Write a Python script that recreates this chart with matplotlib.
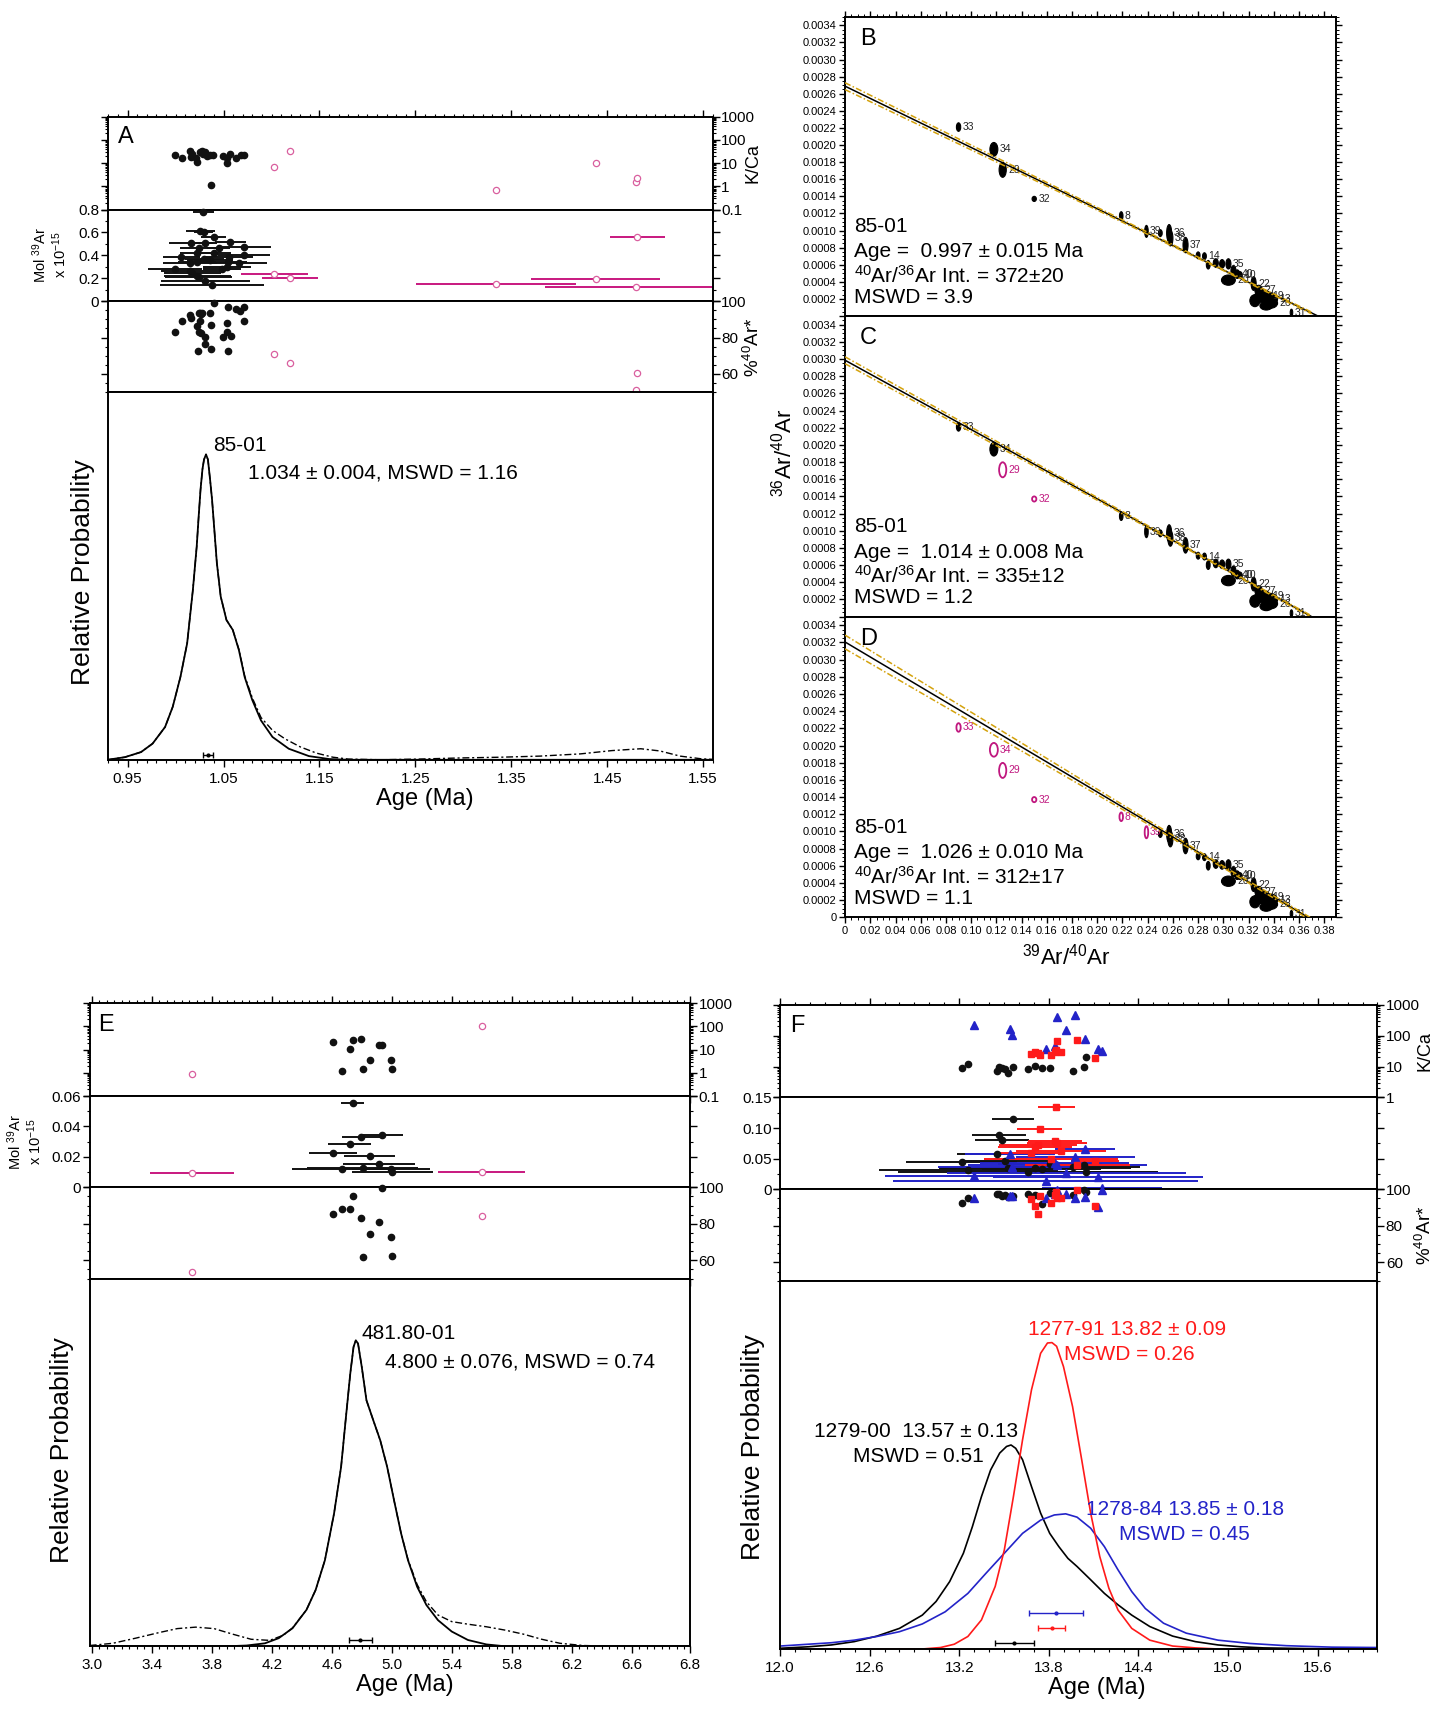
import numpy as np
import matplotlib
matplotlib.use("Agg")
import matplotlib.pyplot as plt
from matplotlib.patches import Ellipse
from matplotlib.ticker import (FixedLocator, MultipleLocator, FuncFormatter,
                               LogLocator, NullFormatter)
from matplotlib import font_manager

names = {f.name for f in font_manager.fontManager.ttflist}
SANS = 'Liberation Sans' if 'Liberation Sans' in names else 'DejaVu Sans'

plt.rcParams.update({
    'font.family': [SANS, 'DejaVu Sans'],
    'mathtext.fontset': 'custom',
    'mathtext.rm': SANS,
    'mathtext.it': SANS + ':italic',
    'mathtext.bf': SANS + ':bold',
    'axes.linewidth': 1.4,
    'xtick.direction': 'out',
    'ytick.direction': 'out',
})

nan = np.nan

# ---------------- panel A (85-01) ----------------
a_kca_age = [0.999, 1.007, 1.015, 1.016, 1.017, 1.021, 1.022, 1.025, 1.028, 1.029, 1.031,
             1.033, 1.036, 1.037, 1.039, 1.049, 1.054, 1.054, 1.057, 1.063, 1.068, 1.071]
a_kca = [22, 17, 34, 19, 26, 17, 11.5, 31, 33, 26, 31, 21, 22, 1.1, 22, 21, 16, 10, 26, 17, 22, 22]

a_mol_age = [1.0287, 1.0259, 1.0294, 1.0398, 1.0165, 1.0311, 1.0571, 1.0242, 1.0710, 1.0225,
             1.0061, 1.0710, 1.0554, 1.0363, 1.0224, 1.0547, 1.0148, 1.0658, 1.0537, 0.9992,
             1.0155, 1.0485, 1.0224, 1.0242, 1.0311, 1.0380, 1.0175, 1.0300, 1.0400, 1.0450]
a_mol = [0.780, 0.617, 0.608, 0.563, 0.511, 0.505, 0.520, 0.467, 0.476, 0.425,
         0.390, 0.400, 0.390, 0.360, 0.346, 0.346, 0.332, 0.332, 0.303, 0.283,
         0.268, 0.283, 0.225, 0.208, 0.173, 0.139, 0.245, 0.370, 0.420, 0.465]
a_mol_err = [0.011, 0.015, 0.010, 0.013, 0.023, 0.012, 0.016, 0.020, 0.028, 0.018,
             0.019, 0.027, 0.025, 0.024, 0.020, 0.020, 0.028, 0.029, 0.025, 0.028,
             0.031, 0.020, 0.035, 0.035, 0.046, 0.054, 0.030, 0.020, 0.018, 0.012]

a_ar_age = [1.0398, 1.0547, 1.0634, 1.0675, 1.0710, 1.0068, 1.0148, 1.0165, 1.0242, 1.0252,
            1.0262, 1.0276, 1.0363, 1.0259, 1.0537, 1.0710, 1.0224, 1.0373, 0.9992, 1.0242,
            1.0269, 1.0311, 1.0537, 1.0582, 1.0491, 1.0311, 1.0235, 1.0373, 1.0547]
a_ar = [99.1, 96.8, 95.6, 94.4, 96.8, 89.4, 92.4, 90.7, 93.5, 93.8,
        93.0, 93.3, 93.8, 89.4, 88.0, 89.1, 86.2, 86.8, 83.3, 83.3,
        82.4, 80.3, 83.3, 81.0, 80.3, 76.6, 72.7, 73.6, 72.7]

a_rej_age = [1.103, 1.119, 1.334, 1.438, 1.480, 1.4815]
a_rej_kca = [6.6, 35, 0.70, 10, 1.6, 2.4]
a_rej_mol = [0.234, 0.202, 0.152, 0.193, 0.126, 0.557]
a_rej_err = [0.035, 0.029, 0.083, 0.067, 0.095, 0.029]
a_rej_ar = [70.9, 66.1, nan, nan, 50.8, 60.2]

a_sel_age = [0.929, 0.947, 0.964, 0.976, 0.989, 0.997, 1.005, 1.012, 1.018, 1.022, 1.024,
             1.026, 1.028, 1.0296, 1.0317, 1.0337, 1.036, 1.038, 1.043, 1.047, 1.053,
             1.0596, 1.066, 1.072, 1.080, 1.089, 1.101, 1.118, 1.139, 1.160, 1.180, 1.560]
a_sel = [0.0, 0.007, 0.021, 0.044, 0.089, 0.144, 0.225, 0.316, 0.462, 0.580, 0.660,
         0.735, 0.790, 0.816, 0.830, 0.816, 0.760, 0.707, 0.535, 0.444, 0.380,
         0.353, 0.298, 0.225, 0.162, 0.107, 0.062, 0.030, 0.010, 0.002, 0.0, 0.0]
a_all_age = [0.929, 0.947, 0.964, 0.976, 0.989, 0.997, 1.005, 1.012, 1.018, 1.022, 1.024,
             1.026, 1.028, 1.0296, 1.0317, 1.0337, 1.036, 1.038, 1.043, 1.047, 1.053,
             1.0596, 1.066, 1.072, 1.080, 1.089, 1.101, 1.114, 1.130, 1.147, 1.164,
             1.180, 1.214, 1.255, 1.297, 1.339, 1.380, 1.422, 1.455, 1.485, 1.505,
             1.526, 1.547, 1.560]
a_all = [0.0, 0.007, 0.021, 0.044, 0.089, 0.144, 0.225, 0.316, 0.462, 0.580, 0.660,
         0.735, 0.790, 0.816, 0.830, 0.816, 0.760, 0.707, 0.535, 0.444, 0.380,
         0.353, 0.300, 0.228, 0.168, 0.115, 0.080, 0.057, 0.035, 0.018, 0.007,
         0.002, 0.0, 0.002, 0.005, 0.007, 0.010, 0.016, 0.025, 0.030, 0.024,
         0.010, 0.003, 0.001]
a_mean, a_mean_err = 1.034, 0.005

# ---------------- panels B-D (isochrons 85-01) ----------------
iso_step = ['33', '34', '29', '32', '8', '39', '', '36', '38', '37', '', '14', '', '', '',
            '35', '', '40', '10', '20', '22', '27', '19', '13', '', '26', '', '', '31']
iso_x = [0.090, 0.118, 0.125, 0.150, 0.219, 0.239, 0.250, 0.257, 0.258, 0.270, 0.280,
         0.285, 0.288, 0.294, 0.299, 0.304, 0.308, 0.311, 0.313, 0.304, 0.324, 0.328,
         0.333, 0.338, 0.330, 0.337, 0.325, 0.334, 0.354]
iso_y = [0.00221, 0.00195, 0.00171, 0.00137, 0.00117, 0.00099, 0.00097, 0.00097, 0.00091,
         0.00083, 0.00071, 0.00070, 0.00060, 0.00062, 0.00061, 0.00061, 0.00053, 0.00049,
         0.00048, 0.00042, 0.00038, 0.00030, 0.00024, 0.00020, 0.00022, 0.00015, 0.00018,
         0.00012, 0.00004]
iso_ex = [0.0034, 0.0063, 0.0057, 0.0034, 0.0028, 0.0028, 0.0030, 0.0040, 0.0040, 0.0040,
          0.0030, 0.0030, 0.0030, 0.0040, 0.0040, 0.0040, 0.0040, 0.0040, 0.0040, 0.0110,
          0.0040, 0.0060, 0.0080, 0.0100, 0.0120, 0.0120, 0.0080, 0.0100, 0.0020]
iso_ey = [0.00010, 0.00016, 0.000175, 0.00006, 0.00010, 0.00014, 0.00008, 0.00020, 0.00018,
          0.00018, 0.00008, 0.00008, 0.00010, 0.00010, 0.00010, 0.00012, 0.00012, 0.00010,
          0.00008, 0.00012, 0.00016, 0.00012, 0.00012, 0.00014, 0.00012, 0.00012, 0.00014,
          0.00010, 0.00008]

iso_letters = ['B', 'C', 'D']
iso_ages = ['0.997 ± 0.015', '1.014 ± 0.008', '1.026 ± 0.010']
iso_trapped = ['372±20', '335±12', '312±17']
iso_mswd = ['3.9', '1.2', '1.1']
iso_rejected = [[], ['29', '32'], ['33', '34', '29', '32', '8', '39']]
iso_yint = [1 / 372, 1 / 335, 1 / 312]
iso_xint = [0.375, 0.370, 0.367]
env_x = [0.0, 0.1, 0.2, 0.3, 0.37]
iso_env = [[4e-5, 2.8e-5, 1.6e-5, 0.6e-5, 1.0e-5],
           [4e-5, 2.8e-5, 1.6e-5, 0.6e-5, 1.0e-5],
           [8e-5, 5.6e-5, 3.2e-5, 1.0e-5, 1.5e-5]]

# ---------------- panel E (481.80-01) ----------------
e_age = [4.609, 4.667, 4.719, 4.738, 4.793, 4.806, 4.854, 4.917, 4.938, 4.993, 5.003]
e_kca = [21, 1.18, 10.3, 25, 29, 1.5, 3.5, 16.4, 16.4, 3.5, 1.5]
e_mol = [0.0228, 0.0118, 0.0287, 0.0552, 0.0331, 0.0125, 0.0208, 0.0151, 0.0342, 0.0120, 0.0101]
e_mol_err = [0.16, 0.33, 0.143, 0.077, 0.128, 0.37, 0.17, 0.24, 0.14, 0.26, 0.27]
e_ar = [85.6, 88.3, 87.9, 95.0, 82.9, 61.7, 74.5, 81.1, 99.5, 72.5, 62.2]

e_rej_age = [3.668, 5.60]
e_rej_kca = [0.9, 101]
e_rej_mol = [0.0096, 0.0103]
e_rej_err = [0.28, 0.29]
e_rej_ar = [53.5, 84.0]

e_sel_age = [2.985, 3.9, 4.031, 4.154, 4.246, 4.338, 4.431, 4.492, 4.554, 4.615, 4.662,
             4.692, 4.723, 4.745, 4.760, 4.775, 4.800, 4.831, 4.877, 4.923, 4.969, 5.015,
             5.062, 5.108, 5.169, 5.231, 5.308, 5.400, 5.508, 5.631, 5.754, 6.99]
e_sel = [0.0, 0.0, 0.002, 0.008, 0.022, 0.049, 0.099, 0.153, 0.234, 0.361, 0.488,
         0.614, 0.741, 0.814, 0.832, 0.823, 0.759, 0.669, 0.614, 0.560, 0.488, 0.397,
         0.307, 0.234, 0.162, 0.112, 0.071, 0.040, 0.017, 0.005, 0.0, 0.0]
e_all_age = [2.985, 3.138, 3.292, 3.446, 3.569, 3.692, 3.815, 3.938, 4.062, 4.185, 4.277,
             4.338, 4.431, 4.492, 4.554, 4.615, 4.662, 4.692, 4.723, 4.745, 4.760, 4.775,
             4.800, 4.831, 4.877, 4.923, 4.969, 5.015, 5.062, 5.108, 5.169, 5.231, 5.308,
             5.400, 5.508, 5.631, 5.754, 5.877, 6.000, 6.123, 6.277, 6.490, 6.99]
e_all = [0.002, 0.008, 0.022, 0.037, 0.048, 0.052, 0.048, 0.033, 0.019, 0.016, 0.030,
         0.050, 0.099, 0.153, 0.234, 0.361, 0.488, 0.614, 0.741, 0.814, 0.832, 0.823,
         0.759, 0.669, 0.614, 0.560, 0.488, 0.397, 0.307, 0.236, 0.168, 0.121, 0.085,
         0.067, 0.060, 0.053, 0.044, 0.033, 0.019, 0.008, 0.002, 0.0, 0.0]
e_mean, e_mean_err = 4.79, 0.077
e_xticks = [3.0, 3.4, 3.8, 4.2, 4.6, 5.0, 5.4, 5.8, 6.2, 6.6, 6.99]
e_xlabels = ['3.0', '3.4', '3.8', '4.2', '4.6', '5.0', '5.4', '5.8', '6.2', '6.6', '6.8']

# ---------------- panel F (three samples) ----------------
f_blk_age = [13.216, 13.26, 13.456, 13.467, 13.484, 13.507, 13.524, 13.56, 13.658, 13.707,
             13.751, 13.807, 13.96, 14.033, 14.051]
f_blk_kca = [8.8, 11.9, 7.2, 9.8, 8.8, 8.2, 6.3, 9.8, 8.2, 10.3, 8.8, 8.8, 7.2, 9.5, 20.8]
f_blk_mol = [0.044, 0.031, 0.057, 0.089, 0.080, 0.047, 0.035, 0.114, 0.029, 0.035,
             0.033, 0.042, 0.036, 0.040, 0.028]
f_blk_err = [0.37, 0.60, 0.27, 0.18, 0.18, 0.30, 0.45, 0.14, 0.87, 0.64, 0.40, 0.35, 0.45,
             0.30, 0.30]
f_blk_ar = [92.5, 95.0, 97.7, 97.3, 96.4, 96.8, 96.0, 96.4, 97.7, 97.0, 92.0, 98.2, 97.0,
            99.8, 98.5]

f_red_age = [13.678, 13.707, 13.729, 13.74, 13.813, 13.84, 13.851, 13.856, 13.88, 13.991, 14.107]
f_red_kca = [25.5, 30.5, 27.5, 23.6, 24.3, 29, 35.4, 70, 29, 74, 18.4]
f_red_mol = [0.060, 0.069, 0.072, 0.099, 0.049, 0.079, 0.134, 0.076, 0.062, 0.040, 0.046]
f_red_err = [0.22, 0.25, 0.26, 0.15, 0.45, 0.18, 0.124, 0.20, 0.30, 0.35, 0.16]
f_red_ar = [94.7, 90.7, 86.6, 96.4, 92.5, 97.0, 98.6, 95.0, 95.0, 99.5, 91.1]

f_blu_age = [13.302, 13.542, 13.556, 13.78, 13.838, 13.856, 13.916, 13.978, 14.044, 14.129, 14.156]
f_blu_kca = [231, 170, 102, 37, 48, 392, 150, 468, 80, 37, 32]
f_blu_mol = [0.0225, 0.058, 0.036, 0.0137, 0.043, 0.040, 0.026, 0.053, 0.065, 0.020, 0.002]
f_blu_err = [0.60, 0.30, 0.50, 1.02, 0.50, 0.60, 0.80, 0.40, 0.20, 0.70, 0.40]
f_blu_ar = [95.0, 96.4, 96.4, 95.4, 97.7, 99.5, 97.3, 95.4, 96.0, 90.6, 99.8]

f_blk_pdf_age = [12.003, 12.19, 12.344, 12.497, 12.649, 12.80, 12.953, 13.045, 13.136, 13.228,
                 13.288, 13.349, 13.41, 13.471, 13.517, 13.547, 13.578, 13.624, 13.684, 13.745,
                 13.806, 13.867, 13.928, 13.989, 14.08, 14.172, 14.263, 14.355, 14.476, 14.629,
                 14.781, 14.933, 15.086, 15.238, 15.54, 16.0]
f_blk_pdf = [0.002, 0.006, 0.011, 0.020, 0.035, 0.056, 0.092, 0.129, 0.183, 0.260,
             0.332, 0.414, 0.486, 0.532, 0.550, 0.554, 0.545, 0.514, 0.441, 0.369,
             0.314, 0.278, 0.246, 0.224, 0.188, 0.151, 0.120, 0.092, 0.061, 0.035,
             0.020, 0.011, 0.006, 0.003, 0.001, 0.0]
f_red_pdf_age = [12.0, 12.953, 13.075, 13.167, 13.258, 13.349, 13.441, 13.502, 13.563, 13.624,
                 13.684, 13.745, 13.791, 13.821, 13.852, 13.898, 13.959, 14.02, 14.08, 14.141,
                 14.202, 14.263, 14.355, 14.476, 14.629, 14.781, 14.933, 16.0]
f_red_pdf = [0.0, 0.0, 0.004, 0.013, 0.034, 0.079, 0.170, 0.269, 0.414, 0.568,
             0.704, 0.803, 0.831, 0.832, 0.822, 0.767, 0.658, 0.514, 0.369, 0.251,
             0.165, 0.106, 0.056, 0.024, 0.008, 0.003, 0.0, 0.0]
f_blu_pdf_age = [12.0, 12.19, 12.344, 12.497, 12.649, 12.80, 12.953, 13.106, 13.258, 13.38,
                 13.502, 13.624, 13.745, 13.837, 13.913, 13.989, 14.08, 14.172, 14.263, 14.355,
                 14.446, 14.568, 14.72, 14.933, 15.147, 15.39, 15.695, 16.0]
f_blu_pdf = [0.008, 0.013, 0.017, 0.024, 0.034, 0.047, 0.068, 0.101, 0.151, 0.206,
             0.260, 0.314, 0.350, 0.364, 0.367, 0.358, 0.328, 0.278, 0.215, 0.156,
             0.110, 0.070, 0.043, 0.024, 0.015, 0.009, 0.005, 0.004]
f_means = [13.57, 13.82, 13.85]
f_mean_errs = [0.13, 0.09, 0.18]

BLACK = '#111111'
RED = '#ff1a1a'
BLUE = '#2323c8'
PINK = '#d9609f'
PINK_BAR = '#c8187f'
GOLD = '#d4a20c'
MAG = '#c0177f'

fig = plt.figure(figsize=(14.53, 17.12), dpi=100)


def stack(xs, ys, xlim):
    x0, x1 = xs
    axes = []
    for top, bot in zip(ys[:-1], ys[1:]):
        ax = fig.add_axes([x0, bot, x1 - x0, top - bot],
                          sharex=axes[0] if axes else None)
        axes.append(ax)
    kca, mol, ar, prob = axes
    for ax in axes:
        ax.tick_params(axis='x', which='both', bottom=True, top=False, labelbottom=False)
        ax.tick_params(which='major', length=5, width=1)
        ax.tick_params(which='minor', length=2.5, width=0.8)
    kca.tick_params(axis='x', which='both', top=True)
    prob.tick_params(axis='x', labelbottom=True, labelsize=11)
    prob.set_xlim(*xlim)
    prob.set_yticks([])
    prob.set_ylim(0, 1)
    return kca, mol, ar, prob


def setup_kca(ax, lim, ticks):
    ax.set_yscale('log')
    ax.set_ylim(*lim)
    ax.yaxis.set_major_locator(FixedLocator(ticks))
    ax.yaxis.set_minor_locator(LogLocator(base=10, subs=np.arange(2, 10)))
    ax.yaxis.set_major_formatter(FuncFormatter(lambda v, p: f'{v:g}'))
    ax.yaxis.set_minor_formatter(NullFormatter())
    ax.tick_params(axis='y', which='both', left=True, right=True,
                   labelleft=False, labelright=True, labelsize=11, pad=1)


def setup_mol(ax, top, step, minor, fmt):
    ax.set_ylim(0, top)
    ax.yaxis.set_major_locator(MultipleLocator(step))
    ax.yaxis.set_minor_locator(MultipleLocator(minor))
    ax.yaxis.set_major_formatter(FuncFormatter(fmt))
    ax.tick_params(axis='y', which='both', left=True, right=True,
                   labelleft=True, labelright=False, labelsize=11, pad=1)


def setup_ar(ax):
    ax.set_ylim(50, 100)
    ax.yaxis.set_major_locator(MultipleLocator(20))
    ax.yaxis.set_minor_locator(MultipleLocator(5))
    ax.tick_params(axis='y', which='both', left=True, right=True,
                   labelleft=False, labelright=True, labelsize=11, pad=1)


def dots(ax, x, y, marker='o', color=BLACK, ms=4.5):
    ax.plot(x, y, marker, color=color, ms=ms, ls='none', clip_on=False, zorder=3)


def open_dots(ax, x, y):
    ax.plot(x, y, 'o', mfc='white', mec=PINK, mew=0.9, ms=4.5, ls='none',
            clip_on=False, zorder=3)


def bars(ax, x, y, err, color, marker='o', ms=4.5, open_marker=False):
    ax.errorbar(x, y, xerr=err, fmt='none', ecolor=color, elinewidth=1.4, capsize=0, zorder=2)
    if open_marker:
        open_dots(ax, x, y)
    else:
        dots(ax, x, y, marker, color, ms)


def g_fmt(v, p):
    return f'{v:g}'


# ---------------- A ----------------
A_X = (0.074, 0.4905)
A_Y = [0.9318, 0.8776, 0.8240, 0.7711, 0.5562]
ak, am, aa, ap = stack(A_X, A_Y, (0.929, 1.56))
ap.xaxis.set_major_locator(FixedLocator(np.round(np.arange(0.95, 1.56, 0.1), 2)))
ap.xaxis.set_minor_locator(MultipleLocator(0.01))
ap.xaxis.set_major_formatter(FuncFormatter(lambda v, p: f'{v:.2f}'))
setup_kca(ak, (0.1, 1000), [0.1, 1, 10, 100, 1000])
setup_mol(am, 0.8, 0.2, 0.1, g_fmt)
setup_ar(aa)

dots(ak, a_kca_age, a_kca)
open_dots(ak, a_rej_age, a_rej_kca)
bars(am, a_mol_age, a_mol, a_mol_err, BLACK)
bars(am, a_rej_age, a_rej_mol, a_rej_err, PINK_BAR, open_marker=True)
dots(aa, a_ar_age, a_ar)
open_dots(aa, a_rej_age, a_rej_ar)

ap.plot(a_all_age, a_all, color='k', lw=1.0, ls=(0, (5, 2, 1.5, 2)))
ap.plot(a_sel_age, a_sel, color='k', lw=1.3)
ap.errorbar(a_mean, 0.012, xerr=a_mean_err, fmt='o', ms=2, color='k', capsize=2.5, lw=1)
ap.text(1.039, 0.853, '85-01', fontsize=15, va='center')
ap.text(1.075, 0.78, '1.034 ± 0.004, MSWD = 1.16', fontsize=15, va='center')
ak.text(0.017, 0.9, 'A', transform=ak.transAxes, fontsize=17, va='top')

fig.text(0.057, 0.666, 'Relative Probability', rotation=90, fontsize=19, ha='center', va='center')
fig.text(0.2923, 0.5333, 'Age (Ma)', fontsize=17, ha='center', va='center')
fig.text(0.034, 0.851, 'Mol $^{39}$Ar\nx 10$^{-15}$', rotation=90, fontsize=10.5,
         ha='center', va='center', linespacing=1.1)
fig.text(0.518, 0.905, 'K/Ca', rotation=90, fontsize=13, ha='center', va='center')
fig.text(0.518, 0.797, '%$^{40}$Ar*', rotation=90, fontsize=13.5, ha='center', va='center')

# ---------------- B, C, D ----------------
ISO_X = (0.5816, 0.9192)
ISO_Y = [0.9902, 0.8154, 0.6398, 0.4642]
for i, letter in enumerate(iso_letters):
    top, bot = ISO_Y[i], ISO_Y[i + 1]
    ax = fig.add_axes([ISO_X[0], bot, ISO_X[1] - ISO_X[0], top - bot])
    ax.set_xlim(0, 0.389)
    ax.set_ylim(0, 0.0035)
    ax.xaxis.set_major_locator(MultipleLocator(0.02))
    ax.xaxis.set_minor_locator(MultipleLocator(0.005))
    ax.yaxis.set_major_locator(MultipleLocator(0.0002))
    ax.yaxis.set_minor_locator(MultipleLocator(0.00005))
    last = (i == len(iso_letters) - 1)
    ax.yaxis.set_major_formatter(FuncFormatter(
        lambda v, p, last=last: ('0' if last else '') if abs(v) < 1e-9 else f'{v:.4f}'))
    ax.xaxis.set_major_formatter(FuncFormatter(
        lambda v, p: '0' if abs(v) < 1e-9 else f'{v:.2f}'))
    ax.tick_params(which='both', left=True, right=True, top=(i == 0), bottom=last,
                   labelbottom=last, labelsize=8, pad=2)
    ax.tick_params(which='major', length=4, width=1)
    ax.tick_params(which='minor', length=2, width=0.7)

    rej = iso_rejected[i]
    for lab, x, y, w, h in zip(iso_step, iso_x, iso_y, iso_ex, iso_ey):
        if lab and lab in rej:
            ax.add_patch(Ellipse((x, y), w, h, facecolor='none', edgecolor=MAG, lw=1.3, zorder=3))
            col = MAG
        else:
            ax.add_patch(Ellipse((x, y), w, h, facecolor='k', edgecolor='k', lw=0.8, zorder=3))
            col = '#222222'
        if lab:
            ax.text(x + w / 2 + 0.0015, y, lab, fontsize=7.5, color=col, va='center', zorder=4)

    y0, x0 = iso_yint[i], iso_xint[i]
    lx = np.array([0.0, x0])
    ax.plot(lx, y0 * (1 - lx / x0), color='k', lw=1.1, zorder=5)
    ex = np.array(env_x)
    ey = y0 * (1 - ex / x0)
    env = np.array(iso_env[i])
    ax.plot(ex, ey + env, color=GOLD, lw=1.1, ls=(0, (4, 1.5, 1, 1.5)), zorder=5)
    ax.plot(ex, ey - env, color=GOLD, lw=1.1, ls=(0, (4, 1.5, 1, 1.5)), zorder=5)

    ax.text(0.03, 0.962, letter, transform=ax.transAxes, fontsize=17, va='top')
    ax.text(0.019, 0.30, '85-01', transform=ax.transAxes, fontsize=15, va='center')
    ax.text(0.019, 0.215, 'Age =  ' + iso_ages[i] + ' Ma', transform=ax.transAxes,
            fontsize=15, va='center')
    ax.text(0.019, 0.135, '$^{40}$Ar/$^{36}$Ar Int. = ' + iso_trapped[i],
            transform=ax.transAxes, fontsize=15, va='center')
    ax.text(0.019, 0.063, 'MSWD = ' + iso_mswd[i], transform=ax.transAxes,
            fontsize=15, va='center')

fig.text(0.5394, 0.7354, '$^{36}$Ar/$^{40}$Ar', rotation=90, fontsize=16,
         ha='center', va='center')
fig.text(0.734, 0.4414, '$^{39}$Ar/$^{40}$Ar', fontsize=16, ha='center', va='center')

# ---------------- E ----------------
E_X = (0.0617, 0.475)
E_Y = [0.4140, 0.3598, 0.3065, 0.2532, 0.0384]
ek, em, ea, ep = stack(E_X, E_Y, (2.985, 6.99))
ep.xaxis.set_major_locator(FixedLocator(e_xticks))
ep.xaxis.set_minor_locator(MultipleLocator(0.05))
ep.set_xticklabels(e_xlabels)
setup_kca(ek, (0.1, 1000), [0.1, 1, 10, 100, 1000])
setup_mol(em, 0.06, 0.02, 0.01, g_fmt)
setup_ar(ea)

dots(ek, e_age, e_kca)
open_dots(ek, e_rej_age, e_rej_kca)
bars(em, e_age, e_mol, e_mol_err, BLACK)
bars(em, e_rej_age, e_rej_mol, e_rej_err, PINK_BAR, open_marker=True)
dots(ea, e_age, e_ar)
open_dots(ea, e_rej_age, e_rej_ar)

ep.plot(e_all_age, e_all, color='k', lw=1.0, ls=(0, (5, 2, 1.5, 2)))
ep.plot(e_sel_age, e_sel, color='k', lw=1.3)
ep.errorbar(e_mean, 0.017, xerr=e_mean_err, fmt='o', ms=2, color='k', capsize=2.5, lw=1)
ep.text(4.80, 0.85, '481.80-01', fontsize=15, va='center')
ep.text(4.954, 0.773, '4.800 ± 0.076, MSWD = 0.74', fontsize=15, va='center')
ek.text(0.014, 0.88, 'E', transform=ek.transAxes, fontsize=17, va='top')

fig.text(0.043, 0.153, 'Relative Probability', rotation=90, fontsize=19, ha='center', va='center')
fig.text(0.2788, 0.016, 'Age (Ma)', fontsize=17, ha='center', va='center')
fig.text(0.017, 0.333, 'Mol $^{39}$Ar\nx 10$^{-15}$', rotation=90, fontsize=10.5,
         ha='center', va='center', linespacing=1.1)

# ---------------- F ----------------
F_X = (0.5368, 0.948)
F_Y = [0.4130, 0.3590, 0.3053, 0.2519, 0.0368]
fk, fm, fa, fp = stack(F_X, F_Y, (12.0, 16.0))
fp.xaxis.set_major_locator(FixedLocator(np.round(np.arange(12.0, 15.7, 0.6), 1)))
fp.xaxis.set_minor_locator(MultipleLocator(0.1))
fp.xaxis.set_major_formatter(FuncFormatter(lambda v, p: f'{v:.1f}'))
setup_kca(fk, (1, 1000), [1, 10, 100, 1000])
setup_mol(fm, 0.15, 0.05, 0.025, lambda v, p: '0' if abs(v) < 1e-9 else f'{v:.2f}')
setup_ar(fa)

dots(fk, f_blk_age, f_blk_kca, 'o', BLACK, 4.5)
dots(fk, f_blu_age, f_blu_kca, '^', BLUE, 5.5)
dots(fk, f_red_age, f_red_kca, 's', RED, 5)
bars(fm, f_blk_age, f_blk_mol, f_blk_err, BLACK, 'o', 4.5)
bars(fm, f_blu_age, f_blu_mol, f_blu_err, BLUE, '^', 5.5)
bars(fm, f_red_age, f_red_mol, f_red_err, RED, 's', 5)
dots(fa, f_blk_age, f_blk_ar, 'o', BLACK, 4.5)
dots(fa, f_blu_age, f_blu_ar, '^', BLUE, 5.5)
dots(fa, f_red_age, f_red_ar, 's', RED, 5)

fp.plot(f_blk_pdf_age, f_blk_pdf, color='k', lw=1.2)
fp.plot(f_blu_pdf_age, f_blu_pdf, color=BLUE, lw=1.2)
fp.plot(f_red_pdf_age, f_red_pdf, color=RED, lw=1.2)
for m, err, yy, col in zip(f_means, f_mean_errs, [0.017, 0.056, 0.097], ['k', RED, BLUE]):
    fp.errorbar(m, yy, xerr=err, fmt='o', ms=2, color=col, capsize=2.5, lw=1)
fp.text(13.66, 0.868, '1277-91 13.82 ± 0.09', color=RED, fontsize=15, va='center')
fp.text(13.904, 0.799, 'MSWD = 0.26', color=RED, fontsize=15, va='center')
fp.text(12.23, 0.59, '1279-00  13.57 ± 0.13', color='k', fontsize=15, va='center')
fp.text(12.487, 0.523, 'MSWD = 0.51', color='k', fontsize=15, va='center')
fp.text(14.05, 0.38, '1278-84 13.85 ± 0.18', color=BLUE, fontsize=15, va='center')
fp.text(14.27, 0.312, 'MSWD = 0.45', color=BLUE, fontsize=15, va='center')
fk.text(0.017, 0.89, 'F', transform=fk.transAxes, fontsize=17, va='top')

fig.text(0.518, 0.155, 'Relative Probability', rotation=90, fontsize=19, ha='center', va='center')
fig.text(0.755, 0.014, 'Age (Ma)', fontsize=17, ha='center', va='center')
fig.text(0.9805, 0.386, 'K/Ca', rotation=90, fontsize=13, ha='center', va='center')
fig.text(0.9805, 0.2786, '%$^{40}$Ar*', rotation=90, fontsize=13.5, ha='center', va='center')

fig.savefig('out.png', dpi=100, facecolor='white')
